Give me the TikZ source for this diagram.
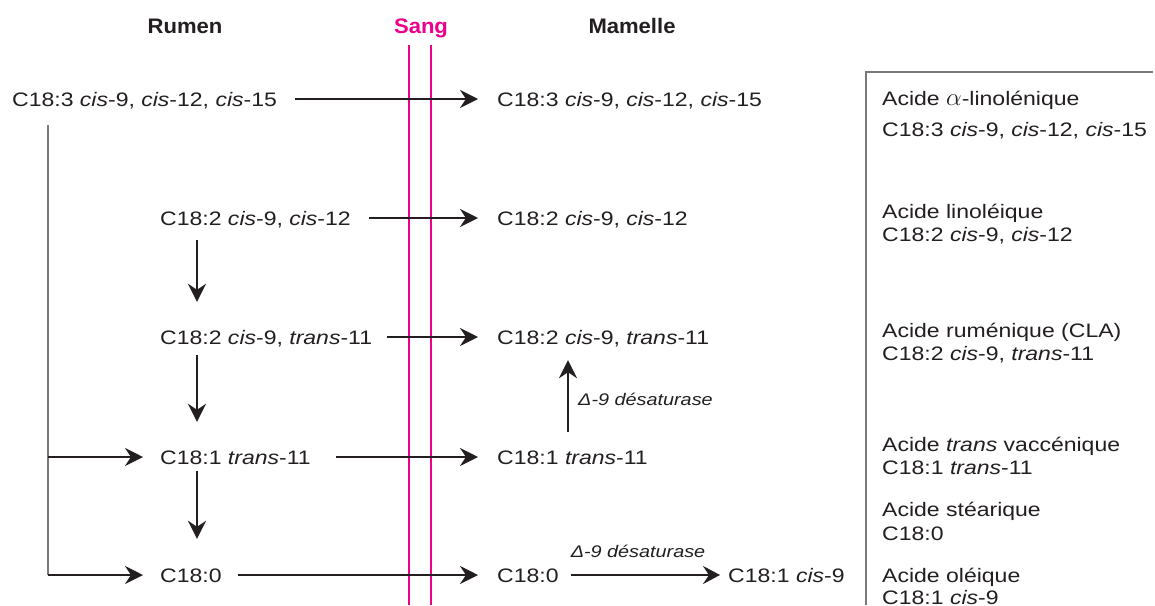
\documentclass[tikz,border=0pt]{standalone}
\usepackage{fontspec}
\setmainfont[FakeStretch=1.18]{Liberation Sans}
\newfontfamily\hdfont[FakeStretch=1.05]{Liberation Sans}
\usetikzlibrary{arrows.meta}
\definecolor{ink}{HTML}{231F20}
\definecolor{sangpink}{HTML}{EC008C}
\definecolor{boxgray}{HTML}{7A7A7A}
\tikzset{
  txt/.style={inner sep=0pt, text height=14pt, text depth=0pt, anchor=west, text=ink,
    font=\fontsize{19.5}{23}\selectfont},
  lbl/.style={inner sep=0pt, text height=12pt, text depth=0pt, anchor=west, text=ink,
    font=\fontsize{16.8}{20}\selectfont\itshape},
  hdr/.style={inner sep=0pt, text height=15pt, text depth=0pt, anchor=center, text=ink,
    font=\hdfont\bfseries\fontsize{21}{25}\selectfont},
  arr/.style={draw=ink, line width=2.4pt, -{Stealth[length=18pt,width=18pt,inset=6pt]}},
  thinarr/.style={draw=ink, line width=1.3pt, -{Stealth[length=17pt,width=18pt,inset=6pt]}},
  pinkline/.style={draw=sangpink, line width=2pt},
  grayline/.style={draw=boxgray, line width=1.5pt},
}
\begin{document}
\begin{tikzpicture}[x=1pt,y=-1pt]
\useasboundingbox[fill=white] (0,0) rectangle (1155,605);

% headers
\node[hdr] (hR) at (185,25.5) {Rumen};
\node[hdr, text=sangpink] (hS) at (421,25.5) {Sang};
\node[hdr] (hM) at (632,25.5) {Mamelle};

% blood lines
\coordinate (s1t) at (409,45); \coordinate (s1b) at (409,605);
\coordinate (s2t) at (431,45); \coordinate (s2b) at (431,605);
\draw[pinkline] (s1t) -- (s1b);
\draw[pinkline] (s2t) -- (s2b);

% rumen column
\node[txt] (r1) at (12,99) {C18:3 \textit{cis}-9, \textit{cis}-12, \textit{cis}-15};
\node[txt] (r2) at (160,218) {C18:2 \textit{cis}-9, \textit{cis}-12};
\node[txt] (r3) at (160,337) {C18:2 \textit{cis}-9, \textit{trans}-11};
\node[txt] (r4) at (160,457) {C18:1 \textit{trans}-11};
\node[txt] (r5) at (160,575) {C18:0};

% mamelle column
\node[txt] (m1) at (497,99) {C18:3 \textit{cis}-9, \textit{cis}-12, \textit{cis}-15};
\node[txt] (m2) at (497,218) {C18:2 \textit{cis}-9, \textit{cis}-12};
\node[txt] (m3) at (497,337) {C18:2 \textit{cis}-9, \textit{trans}-11};
\node[txt] (m4) at (497,457) {C18:1 \textit{trans}-11};
\node[txt] (m5) at (497,575) {C18:0};
\node[txt] (m6) at (728,575) {C18:1 \textit{cis}-9};

% horizontal transfer arrows
\draw[arr] ([xshift=18pt]r1.east) -- ([xshift=-19pt]m1.west);
\draw[arr] ([xshift=18pt]r2.east) -- ([xshift=-19pt]m2.west);
\draw[arr] ([xshift=15pt]r3.east) -- ([xshift=-19pt]m3.west);
\draw[arr] ([xshift=25pt]r4.east) -- ([xshift=-19pt]m4.west);
\draw[arr] ([xshift=16pt]r5.east) -- ([xshift=-19pt]m5.west);

% vertical rumen arrows
\draw[arr] ([shift={(37,15)}]r2.south west) -- ([shift={(37,-28)}]r3.north west);
\draw[arr] ([shift={(37,11)}]r3.south west) -- ([shift={(37,-28)}]r4.north west);
\draw[arr] ([shift={(37,7)}]r4.south west) -- ([shift={(37,-29)}]r5.north west);

% bracket from C18:3
\coordinate (bt) at ([shift={(36,19)}]r1.south west);
\coordinate (b4) at (48,457);
\coordinate (b5) at (48,575);
\draw[grayline] (bt) -- (b5);
\draw[arr] (b4) -- ([xshift=-17pt]r4.west);
\draw[arr] (b5) -- ([xshift=-17pt]r5.west);

% desaturase arrows
\draw[arr] ([shift={(71,-18)}]m4.north west) -- ([shift={(71,16)}]m3.south west);
\node[lbl] (d1) at (578,399) {Δ-9 désaturase};
\draw[thinarr] ([xshift=12pt]m5.east) -- ([xshift=-8pt]m6.west);
\node[lbl, anchor=center] (d2) at (638,551) {Δ-9 désaturase};

% legend box
\coordinate (k1) at (866,605); \coordinate (k2) at (866,72); \coordinate (k3) at (1153,72);
\draw[grayline] (k1) -- (k2) -- (k3);
\node[txt] (a1) at (882,98) {Acide {\fontsize{23}{23}\selectfont$\alpha$}-linolénique};
\node[txt] (a2) at (882,129) {C18:3 \textit{cis}-9, \textit{cis}-12, \textit{cis}-15};
\node[txt] (b1) at (882,211) {Acide linoléique};
\node[txt] (b2) at (882,234) {C18:2 \textit{cis}-9, \textit{cis}-12};
\node[txt] (c1) at (882,330) {Acide ruménique (CLA)};
\node[txt] (c2) at (882,353) {C18:2 \textit{cis}-9, \textit{trans}-11};
\node[txt] (e1) at (882,444) {Acide \textit{trans} vaccénique};
\node[txt] (e2) at (882,467) {C18:1 \textit{trans}-11};
\node[txt] (f1) at (882,509) {Acide stéarique};
\node[txt] (f2) at (882,533) {C18:0};
\node[txt] (g1) at (882,575) {Acide oléique};
\node[txt] (g2) at (882,597) {C18:1 \textit{cis}-9};
\end{tikzpicture}
\end{document}
